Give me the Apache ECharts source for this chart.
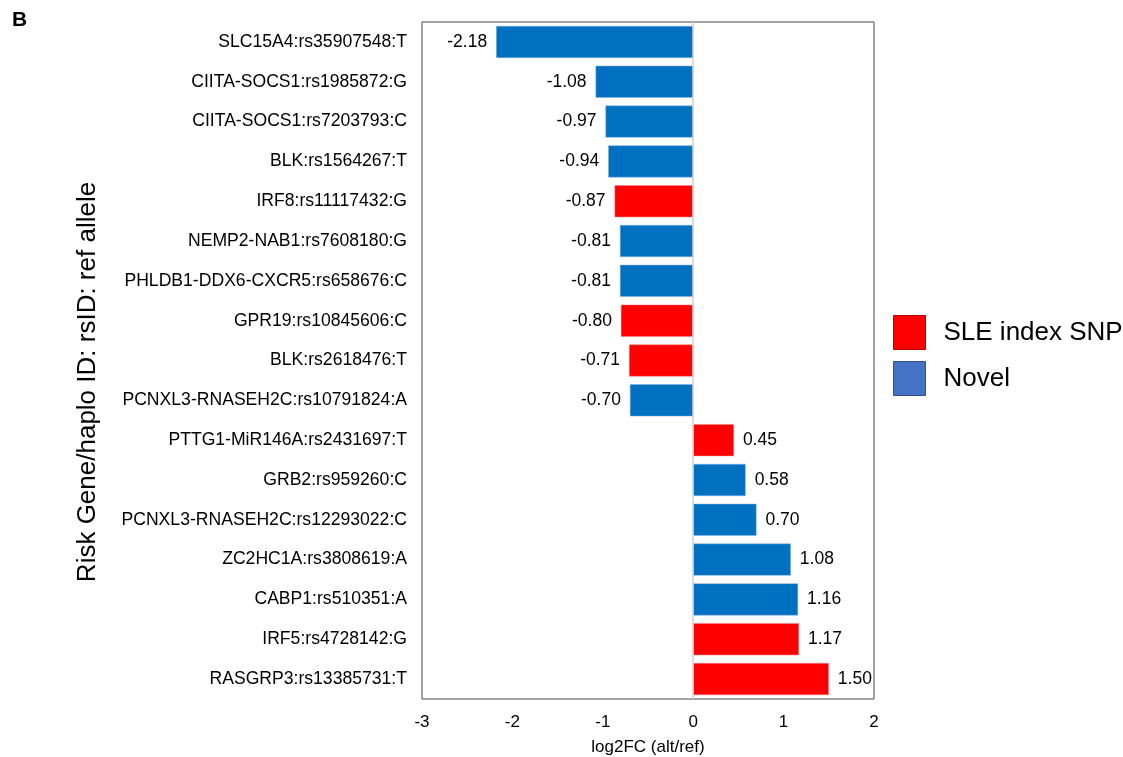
<!DOCTYPE html>
<html><head><meta charset="utf-8">
<script src="https://cdn.jsdelivr.net/npm/echarts@6/dist/echarts.min.js"></script>
<style>html,body{margin:0;padding:0;background:#fff}#c{width:1123px;height:757px}</style>
</head><body><div id="c"></div>
<script>
const categories = [
  'SLC15A4:rs35907548:T','CIITA-SOCS1:rs1985872:G','CIITA-SOCS1:rs7203793:C','BLK:rs1564267:T',
  'IRF8:rs11117432:G','NEMP2-NAB1:rs7608180:G','PHLDB1-DDX6-CXCR5:rs658676:C','GPR19:rs10845606:C',
  'BLK:rs2618476:T','PCNXL3-RNASEH2C:rs10791824:A','PTTG1-MiR146A:rs2431697:T','GRB2:rs959260:C',
  'PCNXL3-RNASEH2C:rs12293022:C','ZC2HC1A:rs3808619:A','CABP1:rs510351:A','IRF5:rs4728142:G',
  'RASGRP3:rs13385731:T'
];
const values = [-2.18,-1.08,-0.97,-0.94,-0.87,-0.81,-0.81,-0.80,-0.71,-0.70,0.45,0.58,0.70,1.08,1.16,1.17,1.50];
const snpType = ['N','N','N','N','S','N','N','S','S','N','S','N','N','N','N','S','S'];
const xTicks = [-3,-2,-1,0,1,2];

const FONT = '"Liberation Sans", Arial, Helvetica, sans-serif';
function seriesData(t){
  return values.map((v,i)=> snpType[i]===t ? {value:v, label:{position: v<0?'left':'right'}} : '-');
}
const chart = echarts.init(document.getElementById('c'));
chart.setOption({
  animation:false,
  textStyle:{fontFamily:FONT},
  grid:{left:422,right:249,top:22,bottom:58,show:true,borderColor:'#444',borderWidth:1,containLabel:false,outerBoundsMode:'none'},
  xAxis:{type:'value',min:xTicks[0],max:xTicks[xTicks.length-1],interval:1,
    splitLine:{show:false},axisLine:{show:false},axisTick:{show:false},
    axisLabel:{color:'#000',fontSize:17,margin:15,fontFamily:FONT},
    name:'log2FC (alt/ref)',nameLocation:'middle',nameGap:40,
    nameTextStyle:{color:'#000',fontSize:17,fontFamily:FONT}},
  yAxis:{type:'category',data:categories,inverse:true,
    axisLine:{show:false},axisTick:{show:false},
    axisLabel:{color:'#000',fontSize:17.6,margin:15,fontFamily:FONT}},
  legend:{orient:'vertical',left:893,top:315,padding:0,itemWidth:32,itemHeight:34,itemGap:11,icon:'rect',
    textStyle:{fontSize:26,color:'#000',fontFamily:FONT,padding:[0,0,0,13]},
    data:[{name:'SLE index SNP',itemStyle:{color:'#FF0000',borderColor:'#C00000',borderWidth:1}},
          {name:'Novel',itemStyle:{color:'#4472C4',borderColor:'#2F528F',borderWidth:1}}]},
  graphic:[
    {type:'text',left:12,top:10,style:{text:'B',font:'bold 21px '+FONT,fill:'#000'}},
    {type:'text',x:88,y:382,rotation:Math.PI/2,style:{text:'Risk Gene/haplo ID: rsID: ref allele',font:'26px '+FONT,fill:'#000',align:'center',verticalAlign:'middle'}}
  ],
  series:[
    {name:'SLE index SNP',type:'bar',data:seriesData('S'),barWidth:32,barGap:'-100%',
      itemStyle:{color:'#FF0000',borderColor:'#FF8080',borderWidth:0.5},
      label:{show:true,color:'#000',fontSize:17.5,distance:9,fontFamily:FONT,formatter:p=>p.value.toFixed(2)},
      markLine:{silent:true,symbol:'none',label:{show:false},lineStyle:{color:'#d0d0d0',width:1.5,type:'solid'},data:[{xAxis:0}]}},
    {name:'Novel',type:'bar',data:seriesData('N'),barWidth:32,barGap:'-100%',
      itemStyle:{color:'#0070C0',borderColor:'#80B0E0',borderWidth:0.5},
      label:{show:true,color:'#000',fontSize:17.5,distance:9,fontFamily:FONT,formatter:p=>p.value.toFixed(2)}}
  ]
});
</script></body></html>
